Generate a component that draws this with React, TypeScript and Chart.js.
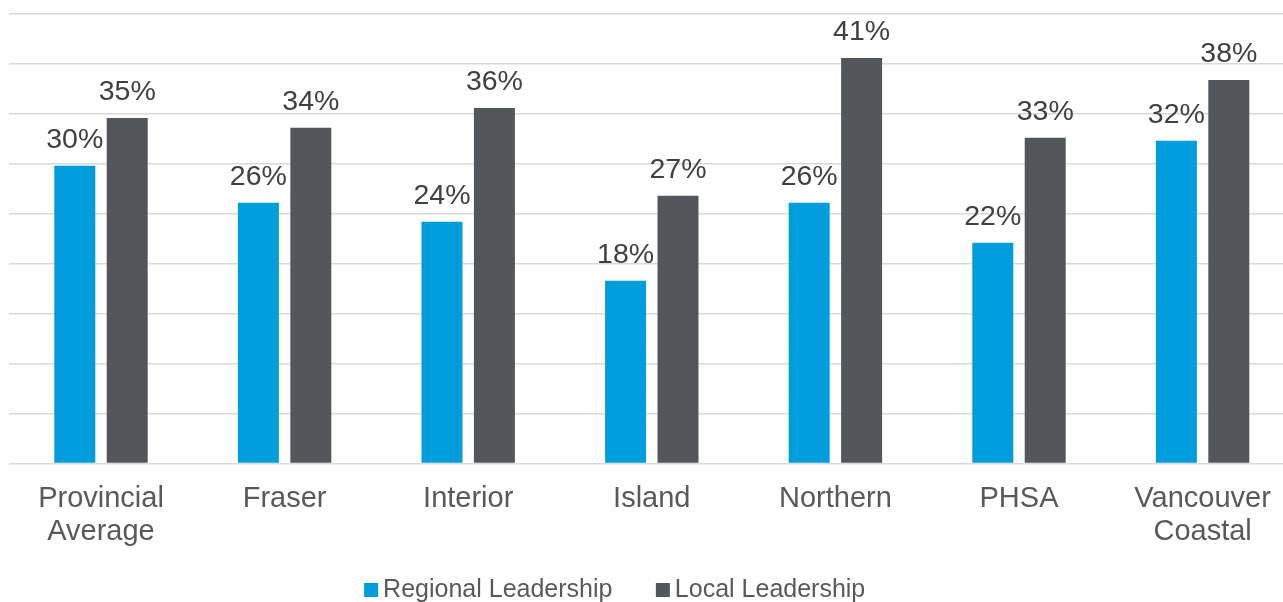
import React, { useEffect, useRef } from "react";
import { Chart, registerables } from "chart.js";

Chart.register(...registerables);

const categories: (string | string[])[] = [
  ["Provincial", "Average"],
  "Fraser",
  "Interior",
  "Island",
  "Northern",
  "PHSA",
  ["Vancouver", "Coastal"],
];
const seriesNames = ["Regional Leadership", "Local Leadership"];
const regionalLeadership = [29.8, 26.1, 24.2, 18.3, 26.1, 22.1, 32.3];
const localLeadership = [34.6, 33.6, 35.6, 26.8, 40.6, 32.6, 38.4];
const yMin = 0;
const yMax = 45;
const yStep = 5;

const FONT = "'Liberation Sans', Arial, sans-serif";
const BLUE = "#009ddc";
const GREY = "#53565a";

const dataLabelsPlugin = {
  id: "dataLabelsPlugin",
  afterDatasetsDraw(chart: any) {
    const ctx = chart.ctx;
    ctx.save();
    ctx.font = `28.5px ${FONT}`;
    ctx.fillStyle = "#404040";
    ctx.textAlign = "center";
    ctx.textBaseline = "alphabetic";
    chart.data.datasets.forEach((ds: any, i: number) => {
      const meta = chart.getDatasetMeta(i);
      meta.data.forEach((bar: any, j: number) => {
        const v = ds.data[j] as number;
        ctx.fillText(`${Math.round(v)}%`, bar.x, bar.y - 18);
      });
    });
    ctx.restore();
  },
};

const legendPlugin = {
  id: "customBottomLegend",
  afterDraw(chart: any) {
    const ctx = chart.ctx;
    const box = 14;
    const gap = 5;
    const between = 43.4;
    const centerX = 614.7;
    const yMid = 590;
    ctx.save();
    ctx.font = `25px ${FONT}`;
    const items = chart.data.datasets.map((ds: any) => ({
      text: ds.label as string,
      color: ds.backgroundColor as string,
      w: ctx.measureText(ds.label).width as number,
    }));
    const total =
      items.reduce((s: number, it: any) => s + box + gap + it.w, 0) +
      between * (items.length - 1);
    let x = centerX - total / 2;
    ctx.textAlign = "left";
    ctx.textBaseline = "middle";
    items.forEach((it: any) => {
      ctx.fillStyle = it.color;
      ctx.fillRect(x, yMid - box / 2, box, box);
      ctx.fillStyle = "#595959";
      ctx.fillText(it.text, x + box + gap, yMid);
      x += box + gap + it.w + between;
    });
    ctx.restore();
  },
};

export default function App() {
  const canvasRef = useRef<HTMLCanvasElement | null>(null);

  useEffect(() => {
    if (!canvasRef.current) return;
    const chart = new Chart(canvasRef.current, {
      type: "bar",
      data: {
        labels: categories as any,
        datasets: [
          {
            label: seriesNames[0],
            data: regionalLeadership,
            backgroundColor: BLUE,
            categoryPercentage: 0.571,
            barPercentage: 0.782,
          },
          {
            label: seriesNames[1],
            data: localLeadership,
            backgroundColor: GREY,
            categoryPercentage: 0.571,
            barPercentage: 0.782,
          },
        ],
      },
      options: {
        responsive: false,
        animation: false,
        devicePixelRatio: 1,
        layout: { padding: { top: 14, left: 9.2, right: 5.6, bottom: 0 } },
        plugins: {
          legend: { display: false },
          tooltip: { enabled: false },
        },
        scales: {
          x: {
            grid: { display: false, drawTicks: false },
            border: { display: false },
            ticks: {
              padding: 19,
              color: "#595959",
              font: { family: FONT, size: 29, lineHeight: 1.138 },
              maxRotation: 0,
              autoSkip: false,
            },
            afterFit: (scale: any) => {
              scale.height = 138.5;
            },
          },
          y: {
            min: yMin,
            max: yMax,
            ticks: { display: false, stepSize: yStep },
            grid: { color: "#d9d9d9", lineWidth: 1.5, drawTicks: false },
            border: { display: false },
          },
        },
      },
      plugins: [dataLabelsPlugin, legendPlugin],
    });
    return () => chart.destroy();
  }, []);

  return (
    <div
      style={{
        position: "fixed",
        left: 0,
        top: 0,
        width: 1283,
        height: 602,
        overflow: "hidden",
        background: "#ffffff",
      }}
    >
      <canvas
        ref={canvasRef}
        width={1300}
        height={602}
        style={{ display: "block", width: 1300, height: 602 }}
      />
    </div>
  );
}
